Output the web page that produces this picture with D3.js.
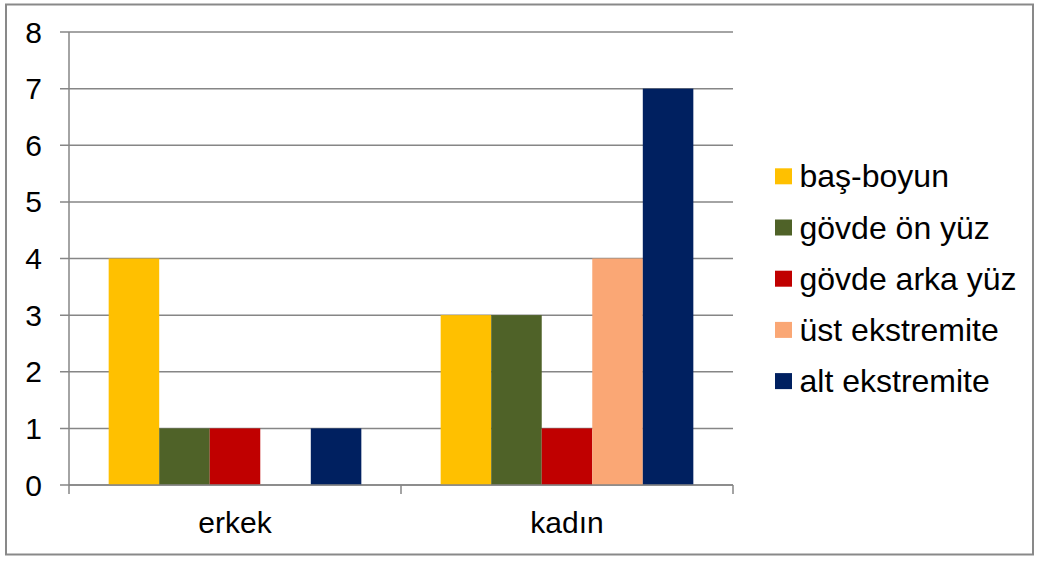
<!DOCTYPE html>
<html>
<head>
<meta charset="utf-8">
<script src="https://cdn.jsdelivr.net/npm/d3@7"></script>
<style>
  body { margin: 0; background: #fff; }
  text { font-family: "Liberation Sans", Arial, sans-serif; fill: #000; }
</style>
</head>
<body>
<script>
const w = 1038; // width
const h = 561; // height

const categories = ["erkek", "kadın"];
const seriesNames = ["baş-boyun", "gövde ön yüz", "gövde arka yüz", "üst ekstremite", "alt ekstremite"];
const seriesColors = ["#FFC000", "#4F6228", "#C00000", "#FAA775", "#002060"];
const erkekValues = [4, 1, 1, 0, 1];
const kadinValues = [3, 3, 1, 4, 7];
const yTicks = [0, 1, 2, 3, 4, 5, 6, 7, 8];

const values = [erkekValues, kadinValues];

// plot area
const pLeft = 69, pRight = 733, pTop = 32, pBottom = 485;

let svg = d3.select("body")
    .append("svg")
    .attr("width", w)
    .attr("height", h);

// outer border
svg.append("rect")
    .attr("x", 6)
    .attr("y", 4.5)
    .attr("width", 1027)
    .attr("height", 550)
    .attr("fill", "#fff")
    .attr("stroke", "#898989")
    .attr("stroke-width", 2);

// scales
let x = d3.scaleBand()
    .domain(categories)
    .range([pLeft, pRight]);

let xInner = d3.scaleBand()
    .domain(seriesNames)
    .range([0, x.bandwidth()])
    .paddingOuter(0.785)
    .paddingInner(0);

let y = d3.scaleLinear()
    .domain([0, 8])
    .range([pBottom, pTop]);

// gridlines + y tick marks
svg.append("g")
    .selectAll("line")
    .data(yTicks)
    .enter()
    .append("line")
    .attr("x1", pLeft - 9)
    .attr("x2", pRight)
    .attr("y1", (d) => y(d))
    .attr("y2", (d) => y(d))
    .attr("stroke", "#868686")
    .attr("stroke-width", 1.5);

// y labels
svg.append("g")
    .selectAll("text")
    .data(yTicks)
    .enter()
    .append("text")
    .attr("x", 42)
    .attr("y", (d) => y(d) + 10.5)
    .attr("text-anchor", "end")
    .style("font-size", "30px")
    .text((d) => d);

// bars
categories.forEach((c, ci) => {
    svg.append("g")
        .selectAll("rect")
        .data(values[ci])
        .enter()
        .append("rect")
        .attr("x", (d, i) => x(c) + xInner(seriesNames[i]))
        .attr("width", xInner.bandwidth())
        .attr("y", (d) => y(d))
        .attr("height", (d) => pBottom - y(d))
        .attr("fill", (d, i) => seriesColors[i]);
});

// y axis line
svg.append("line")
    .attr("x1", pLeft).attr("x2", pLeft)
    .attr("y1", pTop).attr("y2", pBottom)
    .attr("stroke", "#868686")
    .attr("stroke-width", 1.5);

// x axis line + ticks
svg.append("line")
    .attr("x1", pLeft).attr("x2", pRight)
    .attr("y1", pBottom).attr("y2", pBottom)
    .attr("stroke", "#868686")
    .attr("stroke-width", 1.5);

let xTickPos = [pLeft].concat(categories.map((c) => x(c) + x.bandwidth()));
svg.append("g")
    .selectAll("line")
    .data(xTickPos)
    .enter()
    .append("line")
    .attr("x1", (d) => d).attr("x2", (d) => d)
    .attr("y1", pBottom).attr("y2", pBottom + 9)
    .attr("stroke", "#868686")
    .attr("stroke-width", 1.5);

// x labels
svg.append("g")
    .selectAll("text")
    .data(categories)
    .enter()
    .append("text")
    .attr("x", (d) => x(d) + x.bandwidth() / 2)
    .attr("y", 533)
    .attr("text-anchor", "middle")
    .style("font-size", "30px")
    .text((d) => d);

// legend
let legend = svg.append("g")
    .selectAll("g")
    .data(seriesNames)
    .enter()
    .append("g")
    .attr("transform", (d, i) => `translate(775, ${176.3 + i * 51.2})`);

legend.append("rect")
    .attr("x", 0)
    .attr("y", -8)
    .attr("width", 17)
    .attr("height", 16)
    .attr("fill", (d, i) => seriesColors[i]);

legend.append("text")
    .attr("x", 24.5)
    .attr("y", 11)
    .style("font-size", "32px")
    .text((d) => d);
</script>
</body>
</html>
